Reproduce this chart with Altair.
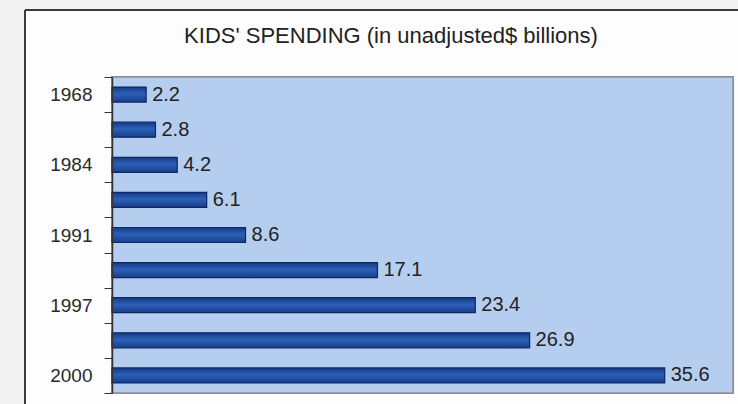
import altair as alt
import pandas as pd

years = ["1968", "1978", "1984", "1989", "1991", "1994", "1997", "1998", "2000"]
values = [2.2, 2.8, 4.2, 6.1, 8.6, 17.1, 23.4, 26.9, 35.6]
shown_years = ["1968", "1984", "1991", "1997", "2000"]
title_text = ["KIDS' SPENDING (in unadjusted$ billions)"]

df = pd.DataFrame({"year": years, "value": values})

W, H = 621, 316
shown_js = "[" + ",".join("'" + y + "'" for y in shown_years) + "]"

base = alt.Chart(df)

frame_fill = base.mark_rect(fill="#fdfdfd", clip=False).encode(
    x=alt.value(-87), x2=alt.value(W + 10), y=alt.value(-67), y2=alt.value(H + 20)
)
frame_left = base.mark_rule(color="#3a3a3a", strokeWidth=2, clip=False).encode(
    x=alt.value(-87), y=alt.value(-67), y2=alt.value(H + 20)
)
frame_top = base.mark_rule(color="#3a3a3a", strokeWidth=2, clip=False).encode(
    x=alt.value(-87), x2=alt.value(W + 10), y=alt.value(-67)
)
plot_bg = base.mark_rect(fill="#b5cdef", stroke="#8b919c", strokeWidth=1.5).encode(
    x=alt.value(0), x2=alt.value(W), y=alt.value(0), y2=alt.value(H)
)
title_mark = alt.Chart(pd.DataFrame({"t": title_text})).mark_text(
    fontSize=22, font="Liberation Sans", color="#222222",
    align="center", baseline="alphabetic", clip=False
).encode(x=alt.value(279), y=alt.value(-34), text="t:N")

grad = alt.Gradient(
    gradient="linear",
    stops=[
        alt.GradientStop(color="#163a84", offset=0),
        alt.GradientStop(color="#2c60b8", offset=0.45),
        alt.GradientStop(color="#193e8a", offset=1),
    ],
    x1=0, x2=0, y1=0, y2=1,
)

y_enc = alt.Y(
    "year:N",
    sort=years,
    scale=alt.Scale(paddingInner=0, paddingOuter=0),
    axis=alt.Axis(
        title=None,
        tickBand="extent",
        tickSize=8,
        tickColor="#333333",
        domainColor="#333333",
        domainWidth=1.5,
        labelPadding=12,
        labelFontSize=19,
        labelFont="Liberation Sans",
        labelColor="#2a2a2a",
        labelExpr="indexof(" + shown_js + ", datum.value) >= 0 ? datum.label : ''",
        zindex=1,
    ),
)
x_enc = alt.X(
    "value:Q",
    scale=alt.Scale(domain=[0, 40], nice=False),
    axis=None,
)

bars = base.mark_bar(color=grad, stroke="#0e2663", strokeWidth=1.2, size=15).encode(
    y=y_enc, x=x_enc
)
labels = base.mark_text(
    align="left", baseline="middle", dx=6, fontSize=20,
    font="Liberation Sans", color="#222222"
).encode(y=y_enc, x=x_enc, text=alt.Text("value:Q", format=".1f"))

chart = (
    alt.layer(frame_fill, frame_left, frame_top, plot_bg, bars, labels, title_mark)
    .properties(
        width=W,
        height=H,
        autosize=alt.AutoSizeParams(type="none"),
        padding={"left": 112, "top": 77, "right": 5, "bottom": 11},
        background="#f3f3f3",
    )
    .configure_view(stroke=None, fill=None)
)

chart.save("out.html", embed_options={"renderer": "svg", "actions": False})
